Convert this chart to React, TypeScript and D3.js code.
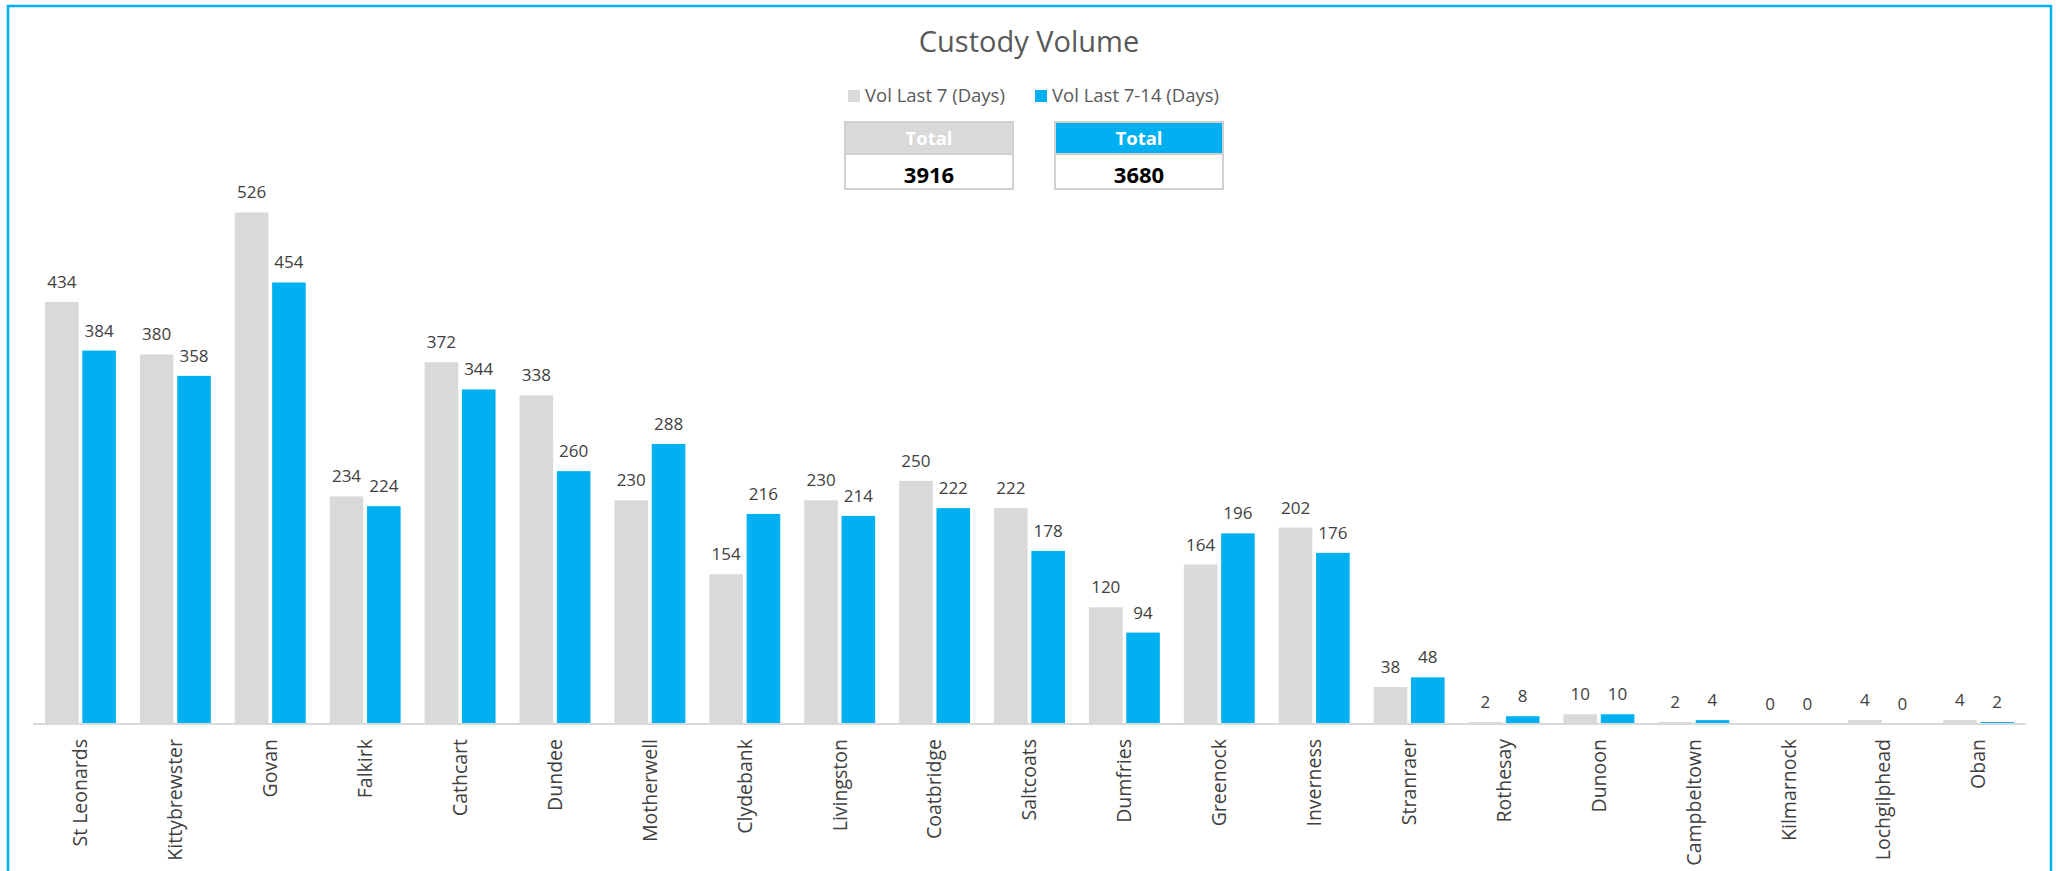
import React from "react";
import * as d3 from "d3";

const categories = ["St Leonards","Kittybrewster","Govan","Falkirk","Cathcart","Dundee","Motherwell","Clydebank","Livingston","Coatbridge","Saltcoats","Dumfries","Greenock","Inverness","Stranraer","Rothesay","Dunoon","Campbeltown","Kilmarnock","Lochgilphead","Oban"];
const last7 = [434,380,526,234,372,338,230,154,230,250,222,120,164,202,38,2,10,2,0,4,4];
const last7to14 = [384,358,454,224,344,260,288,216,214,222,178,94,196,176,48,8,10,4,0,0,2];
const seriesNames = ["Vol Last 7 (Days)", "Vol Last 7-14 (Days)"];
const totals = [3916, 3680];

const W = 2060, H = 871;
const GRAY = "#D9D9D9", BLUE = "#00B0F0";
const FONT = "'Open Sans', 'Noto Sans', sans-serif";

export default function App() {
  const x0 = d3.scaleBand<string>().domain(categories).range([33, 2026]).paddingInner(0).paddingOuter(0);
  const inner = d3.scaleBand<string>().domain(["a", "b"]).range([12, x0.bandwidth() - 12]).paddingInner(0.1);
  const y = d3.scaleLinear().domain([0, 600]).range([724, 724 - 583.5]);
  const series = [last7, last7to14];
  const colors = [GRAY, BLUE];
  const keys = ["a", "b"];

  return (
    <svg width={W} height={H} style={{ position: "absolute", left: 0, top: 0, display: "block" }} fontFamily={FONT}>
      <rect x={0} y={0} width={W} height={H} fill="#fff" />
      <rect x={8} y={6} width={2043} height={H} fill="none" stroke={BLUE} strokeWidth={2.5} />
      <text x={1029} y={52} textAnchor="middle" fontSize={29} fill="#595959">Custody Volume</text>
      {/* legend */}
      <rect x={848} y={90} width={12} height={12} fill={GRAY} />
      <text x={865} y={102} fontSize={18.5} fill="#595959">{seriesNames[0]}</text>
      <rect x={1035} y={90} width={12} height={12} fill={BLUE} />
      <text x={1052} y={102} fontSize={18.5} fill="#595959">{seriesNames[1]}</text>
      {/* total boxes */}
      {[0, 1].map((i) => {
        const bx = i === 0 ? 845 : 1055;
        return (
          <g key={i}>
            <rect x={bx} y={122} width={168} height={32} fill={colors[i]} stroke="#D0D0D0" strokeWidth={2} />
            <rect x={bx} y={154} width={168} height={35} fill="#fff" stroke="#D0D0D0" strokeWidth={2} />
            <text x={bx + 84} y={145} textAnchor="middle" fontSize={18.5} fontWeight="bold" fill="#fff">Total</text>
            <text x={bx + 84} y={183} textAnchor="middle" fontSize={22} fontWeight="bold" fill="#000">{totals[i]}</text>
          </g>
        );
      })}
      {/* bars */}
      {categories.map((c, ci) => (
        <g key={c} transform={`translate(${x0(c)},0)`}>
          {series.map((s, si) => {
            const v = s[ci];
            const bx = inner(keys[si])!;
            return (
              <g key={si}>
                <rect x={bx} y={y(v)} width={inner.bandwidth()} height={y(0) - y(v)} fill={colors[si]} />
                <text x={bx + inner.bandwidth() / 2} y={y(v) - 14} textAnchor="middle" fontSize={17} fill="#404040">{v}</text>
              </g>
            );
          })}
          <text transform={`translate(${x0.bandwidth() / 2},739) rotate(-90)`} textAnchor="end" dy="0.35em" fontSize={19.5} fill="#404040">{c}</text>
        </g>
      ))}
      <line x1={33} x2={2026} y1={724} y2={724} stroke={GRAY} strokeWidth={2} />
    </svg>
  );
}
